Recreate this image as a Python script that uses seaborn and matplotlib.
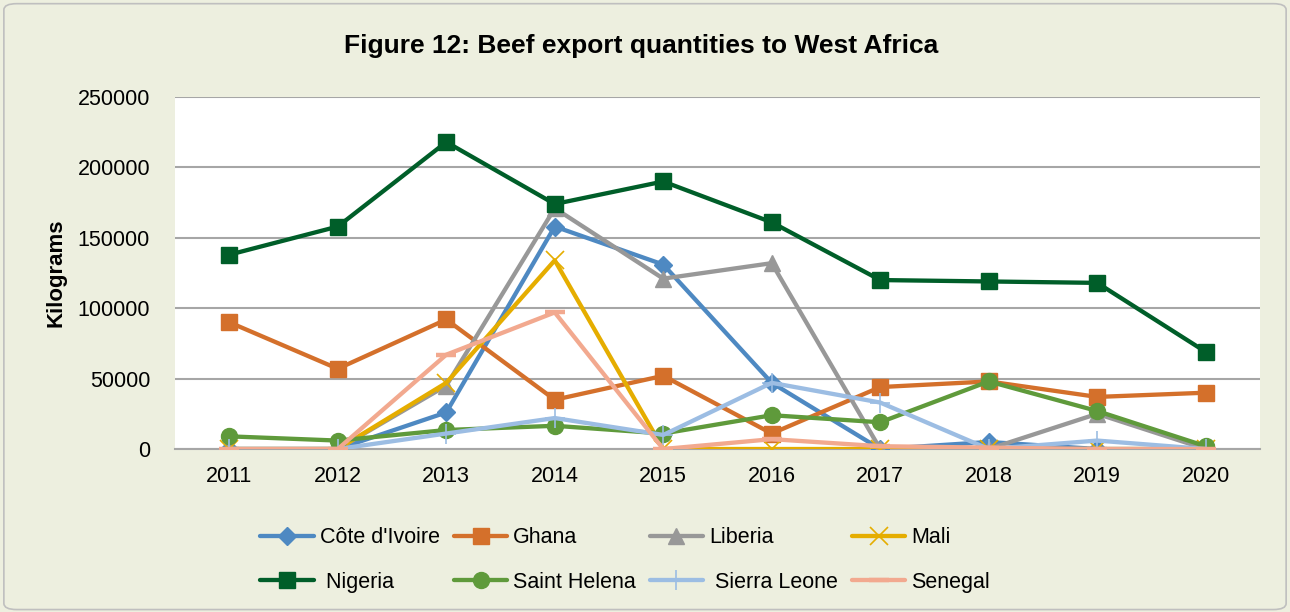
import pandas as pd
import numpy as np
import seaborn as sns
import matplotlib.pyplot as plt
from matplotlib.patches import FancyBboxPatch

# -------------------------------
# Data
# -------------------------------
years = [2011, 2012, 2013, 2014, 2015, 2016, 2017, 2018, 2019, 2020]
cote_divoire = [0, 0, 26000, 158000, 131000, 47000, 0, 5000, 0, 0]
ghana = [90000, 57000, 92000, 35000, 52000, 11000, 44000, 48000, 37000, 40000]
liberia = [0, 0, 45000, 171000, 121000, 132000, 0, 0, 25000, 0]
mali = [0, 0, 47000, 134000, 0, 0, 0, 0, 0, 0]
nigeria = [138000, 158000, 218000, 174000, 190000, 161000, 120000, 119000, 118000, 69000]
saint_helena = [9000, 6000, 13500, 16500, 11000, 24000, 19000, 48000, 27000, 2000]
sierra_leone = [0, 0, 11000, 22000, 10000, 47000, 33000, 0, 6000, 0]
senegal = [0, 0, 67000, 97000, 0, 7000, 2000, 1000, 0, 0]

countries = ["Côte d'Ivoire", "Ghana", "Liberia", "Mali",
             "Nigeria", "Saint Helena", "Sierra Leone", "Senegal"]
legend_labels = ["Côte d'Ivoire", "Ghana", "Liberia", "Mali",
                 " Nigeria", "Saint Helena", " Sierra Leone", "Senegal"]
series = [cote_divoire, ghana, liberia, mali, nigeria, saint_helena, sierra_leone, senegal]

colors = ["#4E89C2", "#D4702B", "#989898", "#E5AD00",
          "#005E29", "#5F9A3B", "#9CBDE3", "#F2A98F"]
markers = ["D", "s", "^", "x", "s", "o", "+", "_"]
msizes = [9.5, 12, 12, 13, 12, 11.5, 15, 14]
medges = [1, 1, 1, 1.2, 1, 1, 1.2, 3.2]

df = pd.DataFrame({"year": np.tile(years, len(countries)),
                   "country": np.repeat(countries, len(years)),
                   "kg": np.concatenate(series)})

# -------------------------------
# Figure
# -------------------------------
sns.set_theme(style="white")
plt.rcParams['font.family'] = ['Liberation Sans', 'DejaVu Sans']
plt.rcParams['text.color'] = 'black'

bg = "#EDEFDF"
fig = plt.figure(figsize=(12.9, 6.12), dpi=100)
fig.patch.set_facecolor(bg)
fig.patches.append(FancyBboxPatch((0.003, 0.004), 0.994, 0.99,
                                  boxstyle="round,pad=0,rounding_size=0.01",
                                  transform=fig.transFigure, facecolor="none",
                                  edgecolor="#BFBFBF", linewidth=1.2))

ax = fig.add_axes([0.1357, 0.2663, 0.841, 0.5752])
ax.set_facecolor("white")

for i, c in enumerate(countries):
    sub = df[df["country"] == c]
    sns.lineplot(data=sub, x="year", y="kg", ax=ax, color=colors[i],
                 marker=markers[i], markersize=msizes[i],
                 markeredgecolor=colors[i], markeredgewidth=medges[i],
                 markerfacecolor=colors[i], linewidth=3.1,
                 label=legend_labels[i], legend=False, zorder=3 + i)

ax.set_xlim(2010.5, 2020.5)
ax.set_ylim(0, 250000)
ax.set_xticks(years)
ax.set_yticks(np.arange(0, 250001, 50000))
ax.set_yticklabels([str(v) for v in range(0, 250001, 50000)])
ax.grid(axis="y", color="#A6A6A6", linewidth=1.5)
ax.grid(axis="x", visible=False)
for s in ["top", "right", "left"]:
    ax.spines[s].set_visible(False)
ax.spines["bottom"].set_color("#A6A6A6")
ax.spines["bottom"].set_linewidth(1.5)
ax.tick_params(axis="both", length=0, labelsize=15.5, colors="black")
ax.tick_params(axis="x", pad=12)
ax.tick_params(axis="y", pad=18)
ax.set_xlabel("")
ax.set_ylabel("Kilograms", fontsize=16, fontweight="bold", labelpad=8, color="black")

fig.text(0.497, 0.925, "Figure 12: Beef export quantities to West Africa",
         ha="center", va="center", fontsize=19, fontweight="bold", color="black")

# legend filled row by row, like the original
handles, labels = ax.get_legend_handles_labels()
order = [0, 4, 1, 5, 2, 6, 3, 7]
leg = fig.legend([handles[k] for k in order], [labels[k] for k in order],
                 ncol=4, loc="center", bbox_to_anchor=(0.4845, 0.085),
                 frameon=False, fontsize=15.5, handlelength=2.5, handletextpad=0.25,
                 columnspacing=0.65, labelspacing=1.1)

plt.savefig("out.png", dpi=100, facecolor=bg)
